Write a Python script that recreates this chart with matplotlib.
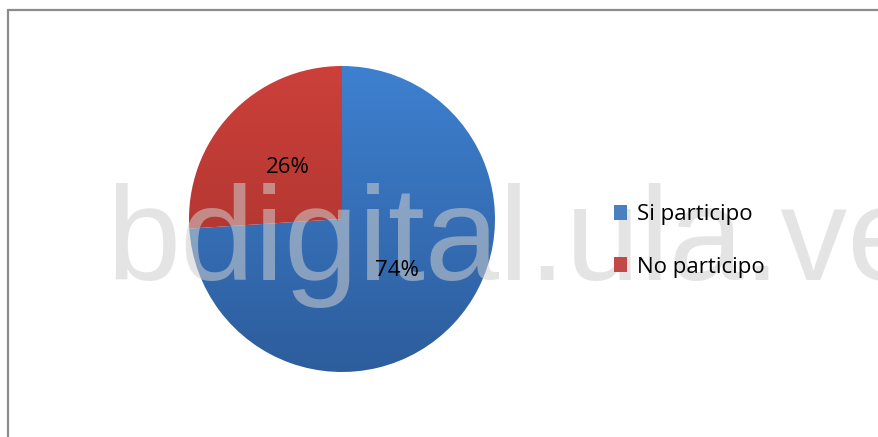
import numpy as np
import matplotlib.pyplot as plt
from matplotlib.patches import Rectangle, Patch
from matplotlib.colors import LinearSegmentedColormap

# datos
etiquetas = ["Si participo", "No participo"]
valores = [74, 26]
colores_arriba = ["#3E80D0", "#CC403A"]
colores_abajo = ["#2D5D9C", "#A2302B"]
colores_leyenda = ["#4A7FC0", "#C24A46"]

W, H = 879, 437
fig = plt.figure(figsize=(W / 100, H / 100), dpi=100)
ax = fig.add_axes([0, 0, 1, 1])

cx, cy, r = 342, H - 219, 153
wedges, textos, pcts = ax.pie(valores, startangle=90, counterclock=False,
                              center=(cx, cy), radius=r, frame=True,
                              autopct="%1.0f%%", pctdistance=0.49,
                              textprops=dict(fontsize=16, family="Open Sans", color="black"),
                              wedgeprops=dict(linewidth=0))
ax.set_xlim(0, W)
ax.set_ylim(0, H)
ax.set_aspect("auto")
ax.axis("off")

# degradado vertical en cada porcion
grad = np.linspace(1, 0, 256).reshape(-1, 1)
for w, c1, c2 in zip(wedges, colores_arriba, colores_abajo):
    w.set_facecolor("none")
    cmap = LinearSegmentedColormap.from_list("g", [c2, c1])
    im = ax.imshow(grad, cmap=cmap, extent=(cx - r, cx + r, cy - r, cy + r),
                   aspect="auto", origin="upper", zorder=1)
    im.set_clip_path(w)
for t in pcts:
    t.set_zorder(5)

# marco
ax.add_patch(Rectangle((8, -20), W + 40, H - 10 + 20, fill=False,
                       edgecolor="#8c8c8c", linewidth=1.6, zorder=6))

# leyenda
manijas = [Patch(facecolor=c, edgecolor="none") for c in colores_leyenda]
leg = ax.legend(manijas, etiquetas, loc="center left", bbox_to_anchor=(594 / W, 1 - 241 / H),
                frameon=False, prop=dict(family="Open Sans", size=16),
                handlelength=0.6, handleheight=0.65, handletextpad=0.45, labelspacing=1.4)
leg.set_zorder(7)

# marca de agua
ax.text(106, H - 280, "bdigital.ula.ve", fontsize=96, family="Liberation Sans",
        color="#cfcfcf", alpha=0.55, zorder=4, va="baseline", ha="left")

fig.savefig("out.png", dpi=100)
